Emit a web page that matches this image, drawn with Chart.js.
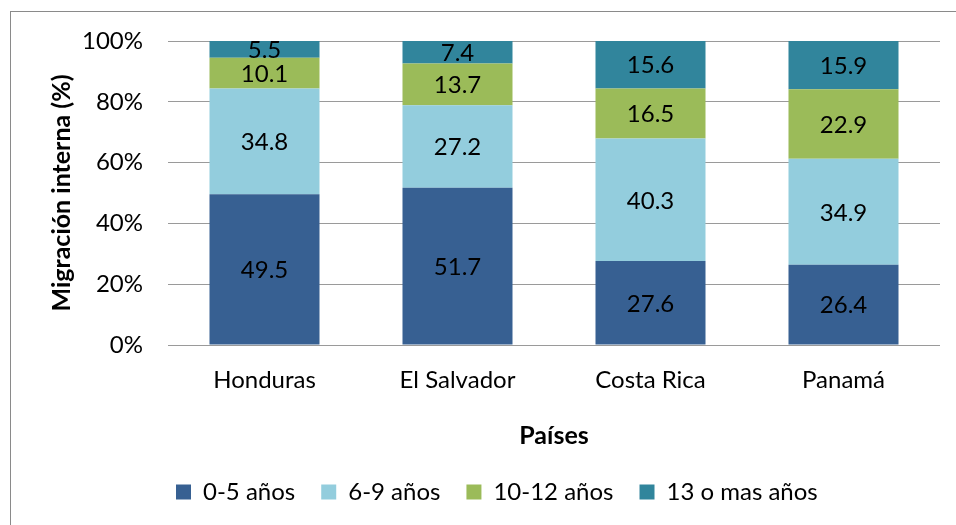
<!DOCTYPE html>
<html>
<head>
<meta charset="utf-8">
<script src="https://cdn.jsdelivr.net/npm/chart.js@4"></script>
<style>
  html, body { margin: 0; padding: 0; background: #fff; }
  #caja { position: relative; width: 956px; height: 525px; overflow: hidden; }
  #marco { position: absolute; left: 10px; top: 11px; width: 1000px; height: 600px; border: 1px solid #8a8a8a; }
  canvas { position: absolute; left: 0; top: 0; }
</style>
</head>
<body>
<div id="caja">
  <div id="marco"></div>
  <canvas id="grafico" width="956" height="525"></canvas>
</div>
<script>
// datos
const paises = ["Honduras", "El Salvador", "Costa Rica", "Panamá"];
const edad0a5 = [49.5, 51.7, 27.6, 26.4];
const edad6a9 = [34.8, 27.2, 40.3, 34.9];
const edad10a12 = [10.1, 13.7, 16.5, 22.9];
const edad13mas = [5.5, 7.4, 15.6, 15.9];
const nombresSeries = ["0-5 años", "6-9 años", "10-12 años", "13 o mas años"];
const coloresSeries = ["#376092", "#93cddd", "#9bbb59", "#31859c"];

const series = [edad0a5, edad6a9, edad10a12, edad13mas];

// apilado al 100%: cada barra se reparte sobre su total
const totales = paises.map((p, i) => series.reduce((acc, s) => acc + s[i], 0));

const fuente = "Lato, 'Open Sans', sans-serif";
Chart.defaults.font.family = fuente;
Chart.defaults.color = "#000";

// etiquetas de valor dentro de cada segmento
const etiquetasValor = {
  id: "etiquetasValor",
  afterDatasetsDraw(chart) {
    const ctx = chart.ctx;
    ctx.save();
    ctx.font = "24px " + fuente;
    ctx.fillStyle = "#000";
    ctx.textAlign = "center";
    ctx.textBaseline = "middle";
    chart.data.datasets.forEach((ds, d) => {
      chart.getDatasetMeta(d).data.forEach((barra, i) => {
        const y = (barra.y + barra.base) / 2;
        ctx.fillText(ds.valores[i].toFixed(1), barra.x, y + 1);
      });
    });
    ctx.restore();
  }
};

// mover la leyenda a la izquierda como en el original
const moverLeyenda = {
  id: "moverLeyenda",
  afterLayout(chart) {
    const ley = chart.legend;
    const dx = 150 - ley.left;
    ley.left += dx;
    ley.right += dx;
  }
};

const ctx = document.getElementById("grafico").getContext("2d");
new Chart(ctx, {
  type: "bar",
  data: {
    labels: paises,
    datasets: series.map((s, k) => ({
      label: nombresSeries[k],
      valores: s,
      data: s.map((v, i) => v / totales[i] * 100),
      backgroundColor: coloresSeries[k],
      borderWidth: 0,
      categoryPercentage: 1,
      barPercentage: 0.57
    }))
  },
  options: {
    responsive: false,
    animation: false,
    layout: { padding: { top: 41, right: 16, left: 12, bottom: 11 } },
    plugins: {
      tooltip: { enabled: false },
      legend: {
        position: "bottom",
        align: "start",
        labels: {
          boxWidth: 15,
          boxHeight: 15,
          padding: 26,
          color: "#000",
          font: { size: 24 }
        }
      }
    },
    scales: {
      x: {
        stacked: true,
        grid: { display: false },
        border: { display: false },
        ticks: { padding: 13, font: { size: 24 }, color: "#000" },
        title: {
          display: true,
          text: "Países",
          font: { size: 25, weight: "bold" },
          color: "#000",
          padding: { top: 0, bottom: 3 }
        },
        afterFit(scale) { scale.height = 109; }
      },
      y: {
        stacked: true,
        min: 0,
        max: 100,
        grid: { color: "#9a9a9a", lineWidth: 1, drawTicks: false },
        border: { display: false },
        ticks: {
          stepSize: 20,
          padding: 25,
          font: { size: 24 },
          color: "#000",
          callback: v => v + "%"
        },
        title: {
          display: true,
          text: "Migración interna (%)",
          font: { size: 25, weight: "bold" },
          color: "#000",
          padding: { top: 35, bottom: 0 }
        },
        afterFit(scale) { scale.width = 156; }
      }
    }
  },
  plugins: [etiquetasValor, moverLeyenda]
});
</script>
</body>
</html>
